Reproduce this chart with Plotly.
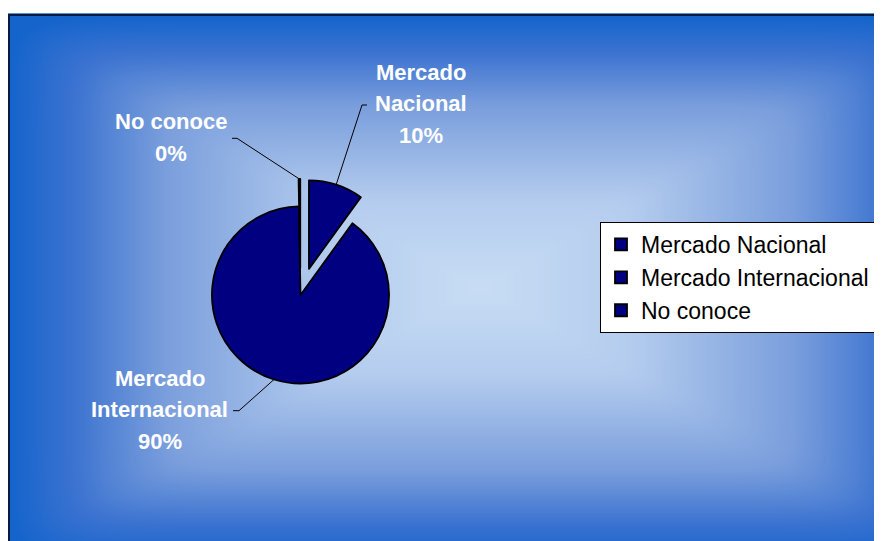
import numpy as np
import plotly.graph_objects as go

# ---- data ----
labels = ["Mercado Nacional", "Mercado Internacional", "No conoce"]
label_lines = [["Mercado", "Nacional"], ["Mercado", "Internacional"], ["No conoce"]]
values = [10, 90, 0.3]
pulls = [0.31, 0.0, 0.31]

# ---- layout constants (screen pixels) ----
W, H = 882, 541
OFF = 8  # page body margin: screen pixel = figure pixel + OFF
FONT = "Liberation Sans, Arial, sans-serif"
NAVY = "#000080"

# pie domain (screen pixels)
pcx, pcy, half = 300.5, 295.0, 116.0
dom_x = [(pcx - half - OFF) / W, (pcx + half - OFF) / W]
dom_y = [1 - (pcy + half - OFF) / H, 1 - (pcy - half - OFF) / H]
r = half / (1 + max(pulls))

# label block centres and leader-line elbows (screen pixels)
label_centres = [(420.5, 103.5), (159.5, 409.5), (171.0, 137.5)]
elbows = [((362, 105), (367, 105)), ((239, 410.7), (233, 410.7)), ((237, 138.3), (232, 138.3))]
LINE_SP = 31.5

fig = go.Figure()

# ---- background: rectangular "from centre" gradient (slightly softened creases) ----
bx0, bx1, by0, by1 = 9, 950, 15, 560
gx = np.linspace(bx0, bx1, 240)
gy = np.linspace(by0, by1, 160)
GX, GY = np.meshgrid(gx, gy)
cxg, cyg = (bx0 + bx1) / 2, (by0 + by1) / 2
U = np.abs(GX - cxg) / ((bx1 - bx0) / 2)
V = np.abs(GY - cyg) / ((by1 - by0) / 2)
P = 16.0
Z = np.clip((U ** P + V ** P) ** (1 / P), 0, 1)
fig.add_trace(go.Heatmap(
    x=gx, y=gy, z=Z, zmin=0, zmax=1, zsmooth="best", showscale=False, hoverinfo="skip",
    colorscale=[[0, "#c8ddf4"], [0.32, "#b4ccee"], [0.67, "#7a9edc"], [0.87, "#3a72d0"], [1, "#1464cc"]],
))

# ---- pie ----
fig.add_trace(go.Pie(
    labels=labels, values=values, pull=pulls, sort=False, direction="clockwise", rotation=0,
    textinfo="none", hoverinfo="skip",
    marker=dict(colors=[NAVY] * 3, line=dict(color="black", width=1.8)),
    domain=dict(x=dom_x, y=dom_y),
))

# ---- leader lines & labels (anchored on slice geometry from the data) ----
total = sum(values)
cum = 0.0
annotations = []
shapes = []
for i, v in enumerate(values):
    a0 = cum / total * 360
    cum += v
    a1 = cum / total * 360
    mid = np.radians((a0 + a1) / 2)
    dist = r * (1 + pulls[i])
    sx, sy = pcx + dist * np.sin(mid), pcy - dist * np.cos(mid)
    (ex, ey), (tx, ty) = elbows[i]
    shapes.append(dict(type="path", xref="x", yref="y",
                       path=f"M{sx:.1f},{sy:.1f} L{ex},{ey} L{tx},{ty}",
                       line=dict(color="black", width=1)))
    lines = label_lines[i] + [f"{round(100 * v / total)}%"]
    lx, ly = label_centres[i]
    n = len(lines)
    for k, t in enumerate(lines):
        annotations.append(dict(
            x=lx, y=ly + (k - (n - 1) / 2) * LINE_SP, xref="x", yref="y", text=t, showarrow=False,
            xanchor="center", yanchor="middle",
            font=dict(family=FONT, size=22, color="white", weight="bold"),
        ))

# chart-area border
shapes.append(dict(type="rect", xref="x", yref="y", x0=9, y0=15, x1=900, y1=560,
                   line=dict(color="#0a1a40", width=2), fillcolor="rgba(0,0,0,0)"))

fig.update_layout(
    width=W, height=H, margin=dict(l=0, r=0, t=0, b=0),
    paper_bgcolor="white", plot_bgcolor="white",
    xaxis=dict(range=[OFF, W + OFF], domain=[0, 1], visible=False, fixedrange=True),
    yaxis=dict(range=[H + OFF, OFF], domain=[0, 1], visible=False, fixedrange=True),
    showlegend=True,
    legend=dict(
        x=(600 - OFF) / W, y=1 - (222 - OFF) / H, xanchor="left", yanchor="top",
        bgcolor="white", bordercolor="black", borderwidth=1,
        font=dict(family=FONT, size=23, color="black"),
        tracegroupgap=0,
    ),
    annotations=annotations, shapes=shapes,
)

fig.write_html("out.html")
